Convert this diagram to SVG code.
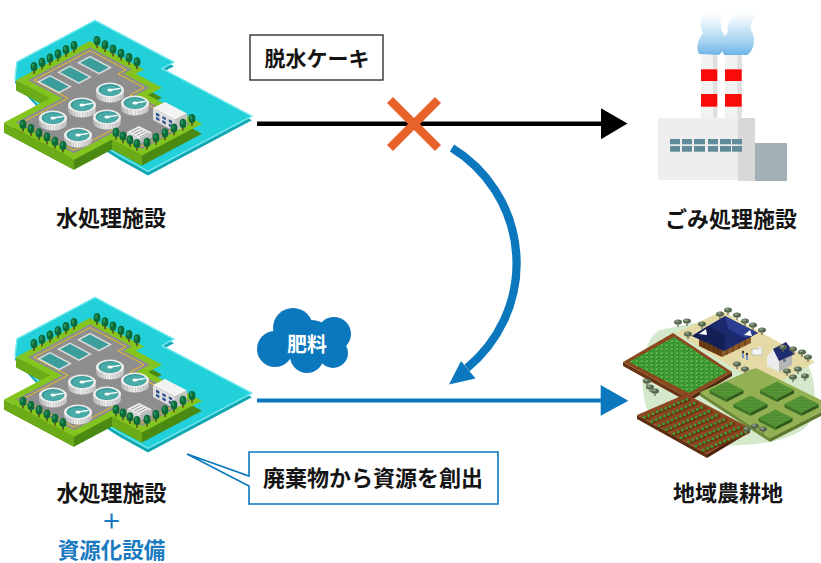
<svg xmlns="http://www.w3.org/2000/svg" width="821" height="563" viewBox="0 0 821 563">
<style>
.lbl{font-family:"Noto Sans CJK JP","Noto Sans CJK SC",sans-serif;font-weight:700;font-size:22px;fill:#141414;text-anchor:middle}
.blue{fill:#1a7abf}
.win{fill:#5f8c98}
</style>
<defs>
  <linearGradient id="smoke" x1="0" y1="1" x2="0" y2="0">
    <stop offset="0" stop-color="#6db4e6"/>
    <stop offset="0.3" stop-color="#a9d4f1"/>
    <stop offset="0.7" stop-color="#e6f3fb"/>
    <stop offset="1" stop-color="#ffffff" stop-opacity="0"/>
  </linearGradient>
  <linearGradient id="wall" x1="0" x2="1" y1="0" y2="0">
    <stop offset="0" stop-color="#b4b4b4"/>
    <stop offset="0.45" stop-color="#f4f4f4"/>
    <stop offset="1" stop-color="#c2c2c2"/>
  </linearGradient>
  <pattern id="ribs" width="2.6" height="8" patternUnits="userSpaceOnUse">
    <rect width="0.9" height="8" fill="#a9a9a9"/>
  </pattern>
  <pattern id="corn" width="5" height="4" patternUnits="userSpaceOnUse">
    <circle cx="2.5" cy="2" r="1.5" fill="#2a8328"/>
    <circle cx="2" cy="1.4" r="0.8" fill="#8fd866"/>
  </pattern>
  <pattern id="grass" width="3" height="3" patternUnits="userSpaceOnUse">
    <circle cx="1.5" cy="1.5" r="0.6" fill="#6aa64a"/>
  </pattern>

  <!-- park tree -->
  <g id="tree">
    <rect x="-0.7" y="-3.2" width="1.4" height="3.2" fill="#5b3b1b"/>
    <ellipse cx="0" cy="-7.2" rx="3.4" ry="4.6" fill="#0c6a39"/>
    <ellipse cx="-1" cy="-8.3" rx="1.3" ry="2.2" fill="#23905a"/>
  </g>
  <!-- farm tree -->
  <g id="ftree">
    <rect x="-0.6" y="-4" width="1.2" height="4" fill="#6d6450"/>
    <ellipse cx="0" cy="-5" rx="4" ry="2.6" fill="#56684f"/>
    <ellipse cx="-1" cy="-5.7" rx="2" ry="1.1" fill="#8fa087"/>
  </g>
  <!-- round settling tank -->
  <g id="clarifier">
    <path d="M-14 0 V5 A14 7.5 0 0 0 14 5 V0 Z" fill="url(#wall)"/>
    <path d="M-14 0 V5 A14 7.5 0 0 0 14 5 V0 Z" fill="url(#ribs)" opacity="0.55"/>
    <ellipse rx="14" ry="7.5" fill="#ececec"/>
    <ellipse rx="11.5" ry="6" fill="#3a9b99"/>
    <ellipse cx="0.5" cy="0.6" rx="10" ry="5" fill="#48aba8"/>
    <line x1="0" y1="0" x2="10.5" y2="-1.6" stroke="#ffffff" stroke-width="1.3"/>
    <ellipse rx="2.6" ry="1.5" fill="#ffffff"/>
  </g>
  <!-- raised crop plot -->
  <g id="plot">
    <polygon points="-17,0 0,8.5 0,12 -17,3.5" fill="#3e7526"/>
    <polygon points="0,8.5 17,0 17,3.5 0,12" fill="#2f5c1d"/>
    <polygon points="-17,0 0,-8.5 17,0 0,8.5" fill="#4f8f31"/>
    <polygon points="-17,0 0,-8.5 17,0 0,8.5" fill="url(#grass)"/>
  </g>

  <!-- water treatment plant illustration -->
  <g id="wwtp">
    <!-- surrounding water -->
    <polygon points="17,65.8 95,24.3 174,66.2 162,72.6 252,120.2 148,175.4 120,160 40,110 15,83" fill="#10a6b2"/>
    <polygon points="17,61.8 95,20.3 174,62.2 162,68.6 252,116.2 148,171.4 120,156 40,106 15,79" fill="#22d0d9" stroke="#74e9ee" stroke-width="1.4" stroke-linejoin="round"/>
    <!-- platform sides -->
    <polygon points="90,51 144,79.62 136,83.86 162,97.64 148,105.06 202,133.68 142,165.48 112,149.58 74,169.72 4,132.62 50,108.24 16,90.22" fill="#4b8a12"/>
    <polygon points="4,122.62 74,159.72 74,169.72 4,132.62" fill="#6aab17"/>
    <polygon points="112,139.58 142,155.48 142,165.48 112,149.58" fill="#6aab17"/>
    <polygon points="16,80.22 50,98.24 50,108.24 16,90.22" fill="#6aab17"/>
    <!-- platform top -->
    <polygon points="90,41 144,69.62 136,73.86 162,87.64 148,95.06 202,123.68 142,155.48 112,139.58 74,159.72 4,122.62 50,98.24 16,80.22" fill="#83c41f"/>
    <!-- paved yard -->
    <polygon points="90,47.36 132,69.62 124,73.86 150,87.64 136,95.06 190,123.68 142,149.12 112,133.22 74,153.36 16,122.62 62,98.24 28,80.22" fill="#8e8e8e"/>
    <polygon points="90,50.54 126,69.62 118,73.86 144,87.64 130,95.06 184,123.68 142,145.94 112,130.04 74,150.18 22,122.62 68,98.24 34,80.22" fill="none" stroke="#f2c318" stroke-width="0.9"/>
    <!-- rectangular basins -->
    <g transform="matrix(1 0.53 -1 0.53 90 41)">
      <rect x="14" y="14" width="22" height="13" fill="#dcdcdc"/>
      <rect x="15.6" y="15.6" width="18.8" height="9.8" fill="#3c9e9b"/>
      <rect x="13" y="33" width="22" height="13" fill="#dcdcdc"/>
      <rect x="14.6" y="34.6" width="18.8" height="9.8" fill="#3c9e9b"/>
      <rect x="12" y="52" width="22" height="13" fill="#dcdcdc"/>
      <rect x="13.6" y="53.6" width="18.8" height="9.8" fill="#3c9e9b"/>
    </g>
    <!-- trees along the back edges -->
    <use href="#tree" x="74" y="52.7"/>
    <use href="#tree" x="66" y="56.9"/>
    <use href="#tree" x="58" y="61.1"/>
    <use href="#tree" x="50" y="65.4"/>
    <use href="#tree" x="42" y="69.6"/>
    <use href="#tree" x="34" y="73.9"/>
    <use href="#tree" x="97" y="47.9"/>
    <use href="#tree" x="105" y="52.1"/>
    <use href="#tree" x="113" y="56.4"/>
    <use href="#tree" x="121" y="60.6"/>
    <use href="#tree" x="129" y="64.9"/>
    <use href="#tree" x="137" y="69.1"/>
    <!-- settling tanks -->
    <use href="#clarifier" x="110" y="90"/>
    <use href="#clarifier" x="135" y="103"/>
    <use href="#clarifier" x="82" y="105"/>
    <use href="#clarifier" x="107" y="117"/>
    <use href="#clarifier" x="53" y="118"/>
    <use href="#clarifier" x="78" y="135"/>
    <!-- office building -->
    <polygon points="165,102 187,113.5 175,119.5 153,108" fill="#f3f3f3"/>
    <polygon points="153,108 175,119.5 175,131.5 153,120" fill="#dedede"/>
    <polygon points="175,119.5 187,113.5 187,125.5 175,131.5" fill="#c4c4c4"/>
    <g transform="matrix(1 0.523 0 1 153 108)" fill="#27508c">
      <rect x="3" y="3" width="3.4" height="2.6"/>
      <rect x="9.4" y="3" width="3.4" height="2.6"/>
      <rect x="15.8" y="3" width="3.4" height="2.6"/>
      <rect x="3" y="7.2" width="3.4" height="2.6"/>
      <rect x="9.4" y="7.2" width="3.4" height="2.6"/>
      <rect x="15.8" y="7.2" width="3.4" height="2.6"/>
    </g>
    <!-- blower unit -->
    <polygon points="127,132 139,126 152,132.5 140,138.5" fill="#f0f0f0"/>
    <polygon points="127,132 140,138.5 140,144 127,137.5" fill="#d6d6d6"/>
    <polygon points="140,138.5 152,132.5 152,138 140,144" fill="#b9b9b9"/>
    <g transform="matrix(1 0.5 1 -0.5 127 132)" stroke="#9a9a9a" stroke-width="0.8">
      <line x1="2.5" y1="1.5" x2="2.5" y2="10.5"/>
      <line x1="5.5" y1="1.5" x2="5.5" y2="10.5"/>
      <line x1="8.5" y1="1.5" x2="8.5" y2="10.5"/>
      <line x1="11.5" y1="1.5" x2="11.5" y2="10.5"/>
    </g>
    <!-- trees along the front edges -->
    <use href="#tree" x="192" y="125.8"/>
    <use href="#tree" x="183" y="130.6"/>
    <use href="#tree" x="174" y="135.3"/>
    <use href="#tree" x="165" y="140.1"/>
    <use href="#tree" x="156" y="144.9"/>
    <use href="#tree" x="147" y="149.6"/>
    <use href="#tree" x="116" y="139.6"/>
    <use href="#tree" x="123" y="143.3"/>
    <use href="#tree" x="130" y="147"/>
    <use href="#tree" x="137" y="150.7"/>
    <use href="#tree" x="23" y="131.6"/>
    <use href="#tree" x="31" y="135.9"/>
    <use href="#tree" x="39" y="140.1"/>
    <use href="#tree" x="47" y="144.3"/>
    <use href="#tree" x="55" y="148.6"/>
    <use href="#tree" x="63" y="152.8"/>
  </g>
</defs>

<rect width="821" height="563" fill="#ffffff"/>

<!-- connectors -->
<g id="connectors">
  <line x1="257" y1="123.7" x2="603" y2="123.7" stroke="#000000" stroke-width="4.5"/>
  <polygon points="601,108.3 627.5,123.5 601,139.3" fill="#000000"/>
  <g id="blocked" stroke="#e8622b" stroke-width="8.5">
    <line x1="390" y1="100" x2="438" y2="148"/>
    <line x1="438" y1="100" x2="390" y2="148"/>
  </g>
  <path d="M452,148 A135.3,135.3 0 0 1 467,368" fill="none" stroke="#0b78bd" stroke-width="8.3"/>
  <polygon points="449,384.5 461,361 475.5,378.5" fill="#0b78bd"/>
  <line x1="257" y1="400.5" x2="603" y2="400.5" stroke="#0b78bd" stroke-width="4"/>
  <polygon points="600.7,385 628.3,400.7 600.7,415.7" fill="#0b78bd"/>
</g>

<!-- water treatment plant -->
<g id="node-wwtp-top">
  <use href="#wwtp"/>
  <text class="lbl" x="111" y="226">水処理施設</text>
</g>

<!-- dewatered cake label -->
<g id="node-cake">
  <rect x="250" y="35" width="133" height="45" fill="#ffffff" stroke="#222222" stroke-width="1.3"/>
  <text class="lbl" x="317" y="65.5" style="font-size:21px">脱水ケーキ</text>
</g>

<!-- incineration plant -->
<g id="node-incinerator">
  <path d="M699,54 C695,46 699,38 703,33 C699,26 700,16 706,9 L728,9 C722,16 719,24 722,31 C727,38 727,49 719,55 Z" fill="url(#smoke)"/>
  <path d="M724,55 C720,47 722,38 728,32 C726,24 732,14 742,7 L764,7 C755,14 750,22 751,30 C756,37 755,50 747,55 Z" fill="url(#smoke)"/>
  <rect x="701" y="55" width="16.3" height="64" fill="#f2f2f2"/>
  <rect x="713" y="55" width="4.3" height="64" fill="#dedede"/>
  <rect x="725" y="55" width="16.7" height="64" fill="#f2f2f2"/>
  <rect x="737.4" y="55" width="4.3" height="64" fill="#dedede"/>
  <rect x="701" y="69.3" width="16.3" height="11.7" fill="#fb0a0a"/>
  <rect x="725" y="69.3" width="16.7" height="11.7" fill="#fb0a0a"/>
  <rect x="701" y="94" width="16.3" height="12.7" fill="#fb0a0a"/>
  <rect x="725" y="94" width="16.7" height="12.7" fill="#fb0a0a"/>
  <rect x="658" y="118" width="80" height="62" fill="#eeeeee"/>
  <rect x="738" y="118" width="17" height="63" fill="#d7d9d9"/>
  <rect x="755" y="143" width="32" height="38" fill="#a2afb5"/>
  <rect class="win" x="670" y="139" width="10" height="5.3"/>
  <rect class="win" x="682" y="139" width="10" height="5.3"/>
  <rect class="win" x="694" y="139" width="11" height="5.3"/>
  <rect class="win" x="708" y="139" width="10" height="5.3"/>
  <rect class="win" x="720" y="139" width="11" height="5.3"/>
  <rect class="win" x="732" y="139" width="10" height="5.3"/>
  <rect class="win" x="670" y="146" width="10" height="5.7"/>
  <rect class="win" x="682" y="146" width="10" height="5.7"/>
  <rect class="win" x="694" y="146" width="11" height="5.7"/>
  <rect class="win" x="708" y="146" width="10" height="5.7"/>
  <rect class="win" x="720" y="146" width="11" height="5.7"/>
  <rect class="win" x="732" y="146" width="10" height="5.7"/>
  <text class="lbl" x="731" y="226.5">ごみ処理施設</text>
</g>

<!-- fertilizer cloud -->
<g id="node-fertilizer">
  <g fill="#0b78bd">
    <circle cx="275" cy="349" r="18"/>
    <circle cx="293" cy="328" r="20"/>
    <circle cx="334" cy="334" r="17"/>
    <circle cx="307" cy="356" r="17"/>
    <circle cx="333" cy="353" r="15"/>
    <circle cx="312" cy="340" r="20"/>
  </g>
  <text class="lbl" x="307" y="352" style="fill:#ffffff;font-size:20px">肥料</text>
</g>

<!-- plant with resource recovery -->
<g id="node-wwtp-bottom">
  <use href="#wwtp" transform="translate(0 277)"/>
  <text class="lbl" x="111.5" y="500.5">水処理施設</text>
  <text class="lbl blue" x="111.5" y="529" style="font-size:20px">＋</text>
  <text class="lbl blue" x="111.5" y="557.5" style="font-size:21.5px">資源化設備</text>
</g>

<!-- callout -->
<g id="node-callout">
  <path d="M249,452 H498 V504 H249 V486 L187,454 L249,476 Z" fill="#ffffff" stroke="#0b78bd" stroke-width="1.6" stroke-linejoin="miter"/>
  <text class="lbl" x="373" y="485.5">廃棄物から資源を創出</text>
</g>

<!-- farmland -->
<g id="node-farm">
  <path d="M660,330 C645,338 640,365 643,390 C646,420 660,440 700,444 C740,448 790,444 808,425 C818,410 816,380 808,365 L770,340 L700,322 Z" fill="#d4e8cc"/>
  <polygon points="676,333 722,311 815,362 768,389" fill="#e5daa6"/>
  <!-- trees behind the houses -->
  <use href="#ftree" x="678" y="327"/>
  <use href="#ftree" x="687" y="326"/>
  <use href="#ftree" x="702" y="329"/>
  <use href="#ftree" x="720" y="319"/>
  <use href="#ftree" x="728" y="315"/>
  <use href="#ftree" x="737" y="320"/>
  <use href="#ftree" x="745" y="326"/>
  <use href="#ftree" x="753" y="330"/>
  <use href="#ftree" x="762" y="335"/>
  <!-- farmhouse -->
  <polygon points="699,338 722,349 722,357 699,346" fill="#6a3d16"/>
  <polygon points="722,349 751,335 751,343 722,357" fill="#8c5a27"/>
  <path d="M704,340v8 M709,343v8 M714,345v8 M718,347v8 M727,347v8 M733,344v8 M739,341v8 M745,338v8" stroke="#4c2a0e" stroke-width="0.7"/>
  <polygon points="692,336 708,326 725,316 758,333 745,340 724,351 712,345" fill="#1b2a6c"/>
  <polygon points="725,316 758,333 745,338 728,329" fill="#2b3e92"/>
  <polygon points="708,326 725,335 724,351 712,345 692,336" fill="#131f55"/>
  <polygon points="699,334 706,329 707,335" fill="#ffffff"/>
  <polygon points="744,335 750,330 752,336" fill="#ffffff"/>
  <!-- truck and people -->
  <rect x="752" y="349" width="10" height="6" fill="#f5f5f5" stroke="#9a9a9a" stroke-width="0.5"/>
  <rect x="758" y="347" width="4" height="3" fill="#dfe6ee"/>
  <circle cx="743" cy="352" r="1.2" fill="#3a2a20"/>
  <rect x="742" y="353" width="2" height="5" fill="#6f95c0"/>
  <circle cx="747" cy="354" r="1.2" fill="#3a2a20"/>
  <rect x="746" y="355" width="2" height="5" fill="#6f95c0"/>
  <!-- small house -->
  <polygon points="767,366 767,357 773,349 779,360 779,372" fill="#ececec"/>
  <polygon points="779,360 792,353 792,365 779,372" fill="#b5b5b5"/>
  <rect x="783" y="359" width="3" height="3" fill="#6d7d8d"/>
  <polygon points="773,349 786,342 795,354 779,361" fill="#1f2d70"/>
  <!-- trees around the yard -->
  <use href="#ftree" x="783" y="352"/>
  <use href="#ftree" x="793" y="354"/>
  <use href="#ftree" x="802" y="357"/>
  <use href="#ftree" x="808" y="362"/>
  <use href="#ftree" x="737" y="369"/>
  <use href="#ftree" x="745" y="374"/>
  <use href="#ftree" x="753" y="377"/>
  <use href="#ftree" x="760" y="382"/>
  <use href="#ftree" x="787" y="376"/>
  <use href="#ftree" x="798" y="374"/>
  <use href="#ftree" x="793" y="382"/>
  <use href="#ftree" x="805" y="381"/>
  <!-- corn field -->
  <polygon points="623,362 688,398 688,402 623,366" fill="#6a3414"/>
  <polygon points="688,398 732,372 732,376 688,402" fill="#542a0f"/>
  <polygon points="673,333 732,372 688,398 623,362" fill="#8b471e"/>
  <polygon points="674,337 727,372 689,393 629,362" fill="#3f9d35"/>
  <polygon points="674,337 727,372 689,393 629,362" fill="url(#corn)"/>
  <use href="#ftree" x="688" y="339"/>
  <use href="#ftree" x="647" y="386"/>
  <use href="#ftree" x="650" y="392"/>
  <use href="#ftree" x="655" y="396"/>
  <!-- plots -->
  <polygon points="700,392 770,438 770,442 700,396" fill="#6d8a35"/>
  <polygon points="770,438 821,412 821,416 770,442" fill="#5c7a2c"/>
  <polygon points="700,392 756,368 821,400 821,412 770,438" fill="#93b152"/>
  <use href="#plot" x="726.5" y="390"/>
  <use href="#plot" x="777" y="390"/>
  <use href="#plot" x="750.5" y="404"/>
  <use href="#plot" x="801.5" y="404"/>
  <use href="#plot" x="775.5" y="418"/>
  <!-- vegetable field -->
  <polygon points="637,415 707,454 707,458 637,419" fill="#5e2e10"/>
  <polygon points="707,454 750,428 750,432 707,458" fill="#4e250c"/>
  <polygon points="637,415 686,394 750,428 707,454" fill="#8a4720"/>
  <g stroke="#6b3312" stroke-width="2.6" stroke-linecap="round">
    <line x1="644.6" y1="418.8" x2="689.7" y2="399.5"/>
    <line x1="652" y1="422.9" x2="697" y2="403.6"/>
    <line x1="659.3" y1="427" x2="704.4" y2="407.7"/>
    <line x1="666.6" y1="431.1" x2="711.7" y2="411.8"/>
    <line x1="674" y1="435.2" x2="719.1" y2="415.9"/>
    <line x1="681.4" y1="439.3" x2="726.4" y2="420"/>
    <line x1="688.7" y1="443.4" x2="733.8" y2="424.1"/>
    <line x1="696" y1="447.4" x2="741.1" y2="428.1"/>
    <line x1="703.4" y1="451.5" x2="748.5" y2="432.2"/>
  </g>
  <g stroke="#3d9a35" stroke-width="3" stroke-linecap="round" stroke-dasharray="0 4.6">
    <line x1="644.6" y1="417.3" x2="689.7" y2="398"/>
    <line x1="652" y1="421.4" x2="697" y2="402.1"/>
    <line x1="659.3" y1="425.5" x2="704.4" y2="406.2"/>
    <line x1="666.6" y1="429.6" x2="711.7" y2="410.3"/>
    <line x1="674" y1="433.7" x2="719.1" y2="414.4"/>
    <line x1="681.4" y1="437.8" x2="726.4" y2="418.5"/>
    <line x1="688.7" y1="441.9" x2="733.8" y2="422.6"/>
    <line x1="696" y1="445.9" x2="741.1" y2="426.6"/>
    <line x1="703.4" y1="450" x2="748.5" y2="430.7"/>
  </g>
  <use href="#ftree" x="747" y="434"/>
  <use href="#ftree" x="755" y="431"/>
  <use href="#ftree" x="763" y="434"/>
  <text class="lbl" x="728" y="500.5">地域農耕地</text>
</g>
</svg>
